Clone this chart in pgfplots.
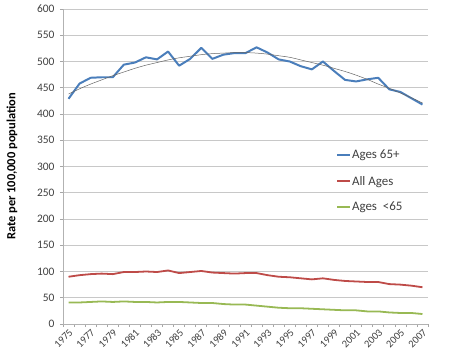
\documentclass[border=0pt]{standalone}
\usepackage{fontspec}
\setmainfont{Carlito}
\usepackage{pgfplots}
\pgfplotsset{compat=1.18}
\definecolor{cblue}{HTML}{4A7EBB}
\definecolor{cred}{HTML}{BE4B48}
\definecolor{cgreen}{HTML}{98B954}
\definecolor{ctxt}{HTML}{404040}
\definecolor{cgrid}{HTML}{C8C8C8}
\begin{document}
\begin{tikzpicture}
\useasboundingbox (-63bp,-37bp) rectangle (405bp,324bp);
\begin{axis}[
  scale only axis,
  width=365bp, height=315bp,
  xmin=-0.5, xmax=32.5,
  ymin=0, ymax=600,
  ytick={0,50,...,600},
  xtick={0,2,...,32},
  xticklabels={1975,1977,1979,1981,1983,1985,1987,1989,1991,1993,1995,1997,1999,2001,2003,2005,2007},
  minor xtick={-0.5,0.5,...,32.5},
  major x tick style={draw=none},
  minor tick length=3bp,
  major tick length=3bp,
  tick align=outside,
  tick style={color=gray!70, line width=0.6pt},
  axis x line*=bottom,
  axis y line*=left,
  axis line style={gray!60, line width=0.8pt},
  x axis line style={-},
  y axis line style={-},
  ymajorgrids,
  grid style={cgrid, line width=0.8pt},
  ticklabel style={text=ctxt},
  /pgf/number format/assume math mode=true,
  x tick label style={font=\fontsize{10.5}{12}\selectfont, rotate=45, anchor=north east, inner sep=1bp},
  y tick label style={font=\fontsize{11.5}{13}\selectfont, xshift=-2bp},
  ylabel={\textbf{Rate per 100,000 population}},
  ylabel style={at={(axis description cs:-0.14,0.5)}, anchor=center, font=\fontsize{12.5}{14}\selectfont, text=black},
  legend style={at={(axis description cs:0.748,0.555)}, anchor=north west, draw=none, fill=none,
    font=\fontsize{13}{15}\selectfont, text=ctxt, row sep=14bp, inner sep=0pt,
    nodes={inner sep=0.8bp}},
  legend cell align=left,
  legend image code/.code={\draw[#1] (0bp,0bp) -- (13bp,0bp);},
]
\addplot[cblue, line width=2pt, line join=round] coordinates {
(0,429) (1,458) (2,469) (3,470) (4,470) (5,494) (6,498) (7,508) (8,504) (9,519)
(10,492) (11,505) (12,526) (13,505) (14,513) (15,516) (16,516) (17,527) (18,517) (19,504)
(20,500) (21,491) (22,485) (23,500) (24,482) (25,465) (26,462) (27,466) (28,469) (29,447)
(30,442) (31,430) (32,418)};
\addlegendentry{Ages 65+}
\addplot[cred, line width=1.8pt, line join=round] coordinates {
(0,90) (1,93) (2,95) (3,96) (4,95) (5,99) (6,99) (7,100) (8,99) (9,102)
(10,97) (11,99) (12,101) (13,98) (14,97) (15,96) (16,97) (17,97) (18,93) (19,90)
(20,89) (21,87) (22,85) (23,87) (24,84) (25,82) (26,81) (27,80) (28,80) (29,76)
(30,75) (31,73) (32,70)};
\addlegendentry{All Ages}
\addplot[cgreen, line width=1.8pt, line join=round] coordinates {
(0,41) (1,41) (2,42) (3,43) (4,42) (5,43) (6,42) (7,42) (8,41) (9,42)
(10,42) (11,41) (12,40) (13,40) (14,38) (15,37) (16,37) (17,35) (18,33) (19,31)
(20,30) (21,30) (22,29) (23,28) (24,27) (25,26) (26,26) (27,24) (28,24) (29,22)
(30,21) (31,21) (32,19)};
\addlegendentry{Ages\ \ <65}
\addplot[gray!80!black, line width=0.5pt, smooth, forget plot] coordinates {
(0,438) (1,448) (2,457) (3,465) (4,473) (5,480) (6,487) (7,493) (8,498) (9,503)
(10,507) (11,510) (12,513) (13,515) (14,516) (15,517) (16,517) (17,516) (18,514) (19,511)
(20,508) (21,503) (22,498) (23,493) (24,487) (25,481) (26,474) (27,466) (28,457) (29,449)
(30,440) (31,431) (32,421)};
\end{axis}
\end{tikzpicture}
\end{document}
